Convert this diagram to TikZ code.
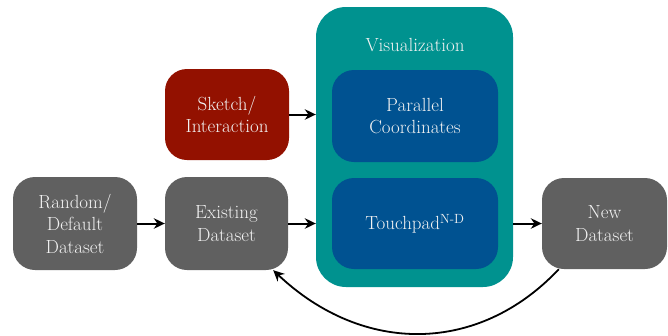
\documentclass[tikz,border=0pt]{standalone}
\usepackage{fontspec}
\usetikzlibrary{arrows.meta}
\definecolor{boxgray}{RGB}{96,96,96}
\definecolor{boxred}{RGB}{147,17,0}
\definecolor{boxteal}{RGB}{0,146,143}
\definecolor{boxblue}{RGB}{0,82,145}
\definecolor{txt}{RGB}{242,242,242}
\tikzset{
  box/.style={draw=none, rounded corners=22pt, text=txt, align=center,
    font=\rmfamily\fontsize{19}{22.5}\selectfont, inner sep=0pt},
  conn/.style={line width=2pt, -{Stealth[length=11pt,width=10.5pt]}},
}
\begin{document}
\begin{tikzpicture}[x=1pt,y=-1pt]
\useasboundingbox (0,0) rectangle (668,335);
\node[box, fill=boxteal, minimum width=197pt, minimum height=280pt, rounded corners=30pt] (vis) at (414.5,147) {};
\node[text=txt, font=\rmfamily\fontsize{19}{22.5}\selectfont] (vislabel) at (415,45) {Visualization};
\node[box, fill=boxblue, minimum width=166pt, minimum height=92pt] (par) at (415,116) {Parallel\\Coordinates};
\node[box, fill=boxblue, minimum width=166pt, minimum height=91pt] (touch) at (415,223.5) {Touchpad\textsuperscript{N-D}};
\node[box, fill=boxgray, minimum width=124pt, minimum height=93pt] (rand) at (75,223.5) {Random/\\Default\\Dataset};
\node[box, fill=boxgray, minimum width=123pt, minimum height=93pt] (exist) at (226.5,223.5) {Existing\\Dataset};
\node[box, fill=boxred, minimum width=124pt, minimum height=91pt] (sketch) at (227,114.5) {Sketch/\\Interaction};
\node[box, fill=boxgray, minimum width=125pt, minimum height=91pt] (new) at (604.5,223.5) {New\\Dataset};
\draw[conn] (rand.east) -- (exist.west);
\draw[conn] (exist.east) -- (exist.east -| vis.west);
\draw[conn] (sketch.east) -- (sketch.east -| vis.west);
\draw[conn] (new.west -| vis.east) -- (new.west);
\draw[conn, line width=1.8pt] (new.225) .. controls +(-80,85) and +(90,85) .. (exist.-45);
\end{tikzpicture}
\end{document}
